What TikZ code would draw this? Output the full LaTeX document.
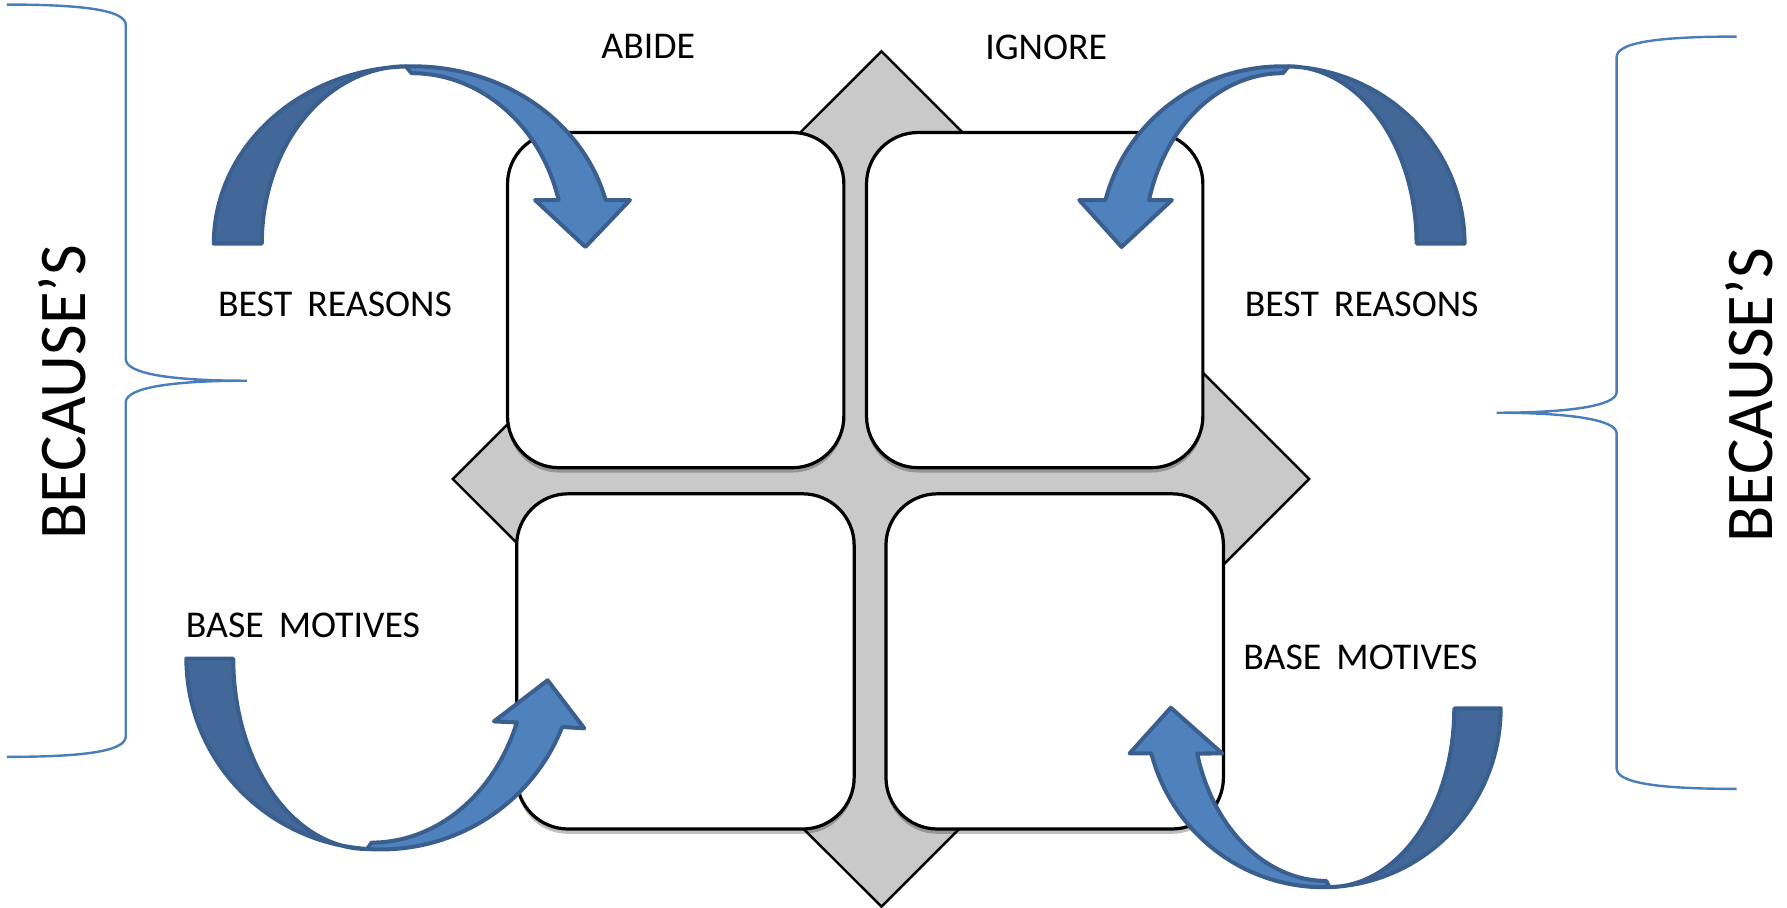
\documentclass[tikz,border=0pt]{standalone}
\usepackage{fontspec}
\setmainfont{Carlito}
\usetikzlibrary{shadows}
\definecolor{arrowdark}{HTML}{416898}
\definecolor{arrowlight}{HTML}{4F81BD}
\definecolor{arrowline}{HTML}{3A5F8E}
\definecolor{bracecol}{HTML}{4A7EBB}
\definecolor{crossgray}{HTML}{C9C9C9}
\tikzset{
  qbox/.style={draw=black, line width=0.8pt, fill=white, rounded corners=0.45cm,
    minimum height=2.93cm, inner sep=0pt,
    drop shadow={shadow xshift=0pt, shadow yshift=-1.2pt, opacity=0.25, fill=black}},
  lbl/.style={font=\fontsize{9.4}{11}\selectfont, inner sep=0pt},
  biglbl/.style={font=\fontsize{16.6}{20}\selectfont, inner sep=0pt, rotate=90},
  darkpart/.style={fill=arrowdark, draw=arrowline, line width=1pt, line join=round},
  lightpart/.style={fill=arrowlight, draw=arrowline, line width=1pt, line join=round},
  bracepath/.style={draw=bracecol, line width=0.6pt}
}
\newcommand{\wsp}{\hspace{0.4em}}
\begin{document}
\begin{tikzpicture}[x=0.01cm, y=-0.01cm]
\useasboundingbox (0,0) rectangle (1563,794);

% central diamond
\filldraw[fill=crossgray, draw=black, line width=0.6pt]
  (771,45) -- (1145,419) -- (771,793) -- (396,419) -- cycle;

% quadrant boxes
\node[qbox, minimum width=2.94cm] (q1) at (591,262.5) {};
\node[qbox, minimum width=2.94cm] (q2) at (905,262.5) {};
\node[qbox, minimum width=2.95cm] (q3) at (599.5,578.5) {};
\node[qbox, minimum width=2.95cm] (q4) at (922.5,578.5) {};

% braces
\draw[bracepath] (6,4) .. controls (80,4) and (110,10) .. (110,22)
  -- (110,314) .. controls (110,327) and (150,333) .. (216,333)
  .. controls (150,333) and (110,339) .. (110,352)
  -- (110,644) .. controls (110,656) and (80,662) .. (6,662);
\draw[bracepath] (1519,32) .. controls (1445,32) and (1414,38) .. (1414,50)
  -- (1414,343) .. controls (1414,355) and (1372,361) .. (1309,361)
  .. controls (1372,361) and (1414,367) .. (1414,379)
  -- (1414,672) .. controls (1414,684) and (1445,690) .. (1519,690);

% arrow 1 (top left)
\filldraw[darkpart] plot[domain=180:268, samples=40] ({361+174*cos(\x)},{213+155*sin(\x)})
  -- plot[domain=270:180, samples=40] ({355+126*cos(\x)},{213+155*sin(\x)}) -- cycle;
\filldraw[lightpart] plot[domain=268:345.8, samples=40] ({361+174*cos(\x)},{213+155*sin(\x)})
  -- (551,175) -- (512,216) -- (468,175)
  -- plot[domain=345.2:270, samples=40] ({360+133*cos(\x)},{213+149*sin(\x)}) -- cycle;

% arrow 2 (top right)
\filldraw[darkpart] plot[domain=360:272, samples=40] ({1121.5+159.5*cos(\x)},{213+155*sin(\x)})
  -- plot[domain=270:360, samples=40] ({1127+112*cos(\x)},{213+155*sin(\x)}) -- cycle;
\filldraw[lightpart] plot[domain=272:194.2, samples=40] ({1121.5+159.5*cos(\x)},{213+155*sin(\x)})
  -- (944,175) -- (981,216) -- (1025,175)
  -- plot[domain=194.8:270, samples=40] ({1122+121*cos(\x)},{213+149*sin(\x)}) -- cycle;

% arrow 3 (bottom left)
\filldraw[darkpart] plot[domain=180:94, samples=40] ({333+170*cos(\x)},{576+167*sin(\x)})
  -- plot[domain=90:180, samples=40] ({321+117*cos(\x)},{576+166.6*sin(\x)}) -- cycle;
\filldraw[lightpart] plot[domain=94:21, samples=40] ({333+170*cos(\x)},{576+167*sin(\x)})
  -- (511,637) -- (479,595) -- (432,631)
  -- plot[domain=20.3:90, samples=40] ({325+135.5*cos(\x)},{576+161*sin(\x)}) -- cycle;

% arrow 4 (bottom right)
\filldraw[darkpart] plot[domain=0:88, samples=40] ({1157.3+155.3*cos(\x)},{619.5+156.5*sin(\x)})
  -- plot[domain=90:0, samples=40] ({1162.7+109.3*cos(\x)},{619.5+156.4*sin(\x)}) -- cycle;
\filldraw[lightpart] plot[domain=88:165.4, samples=40] ({1157.3+155.3*cos(\x)},{619.5+156.5*sin(\x)})
  -- (988,659) -- (1024,619) -- (1069,659)
  -- plot[domain=164.8:90, samples=40] ({1160+117*cos(\x)},{619.5+151*sin(\x)}) -- cycle;

% labels
\node[lbl] (abide) at (567,41) {ABIDE};
\node[lbl] (ignore) at (915,41) {IGNORE};
\node[lbl] (brl) at (293,266) {BEST\wsp REASONS};
\node[lbl] (brr) at (1191,266) {BEST\wsp REASONS};
\node[lbl] (bml) at (265,547) {BASE\wsp MOTIVES};
\node[lbl] (bmr) at (1190,575) {BASE\wsp MOTIVES};
\node[biglbl] (bcl) at (54,343) {BECAUSE’S};
\node[biglbl] (bcr) at (1530,346) {BECAUSE’S};
\end{tikzpicture}
\end{document}
